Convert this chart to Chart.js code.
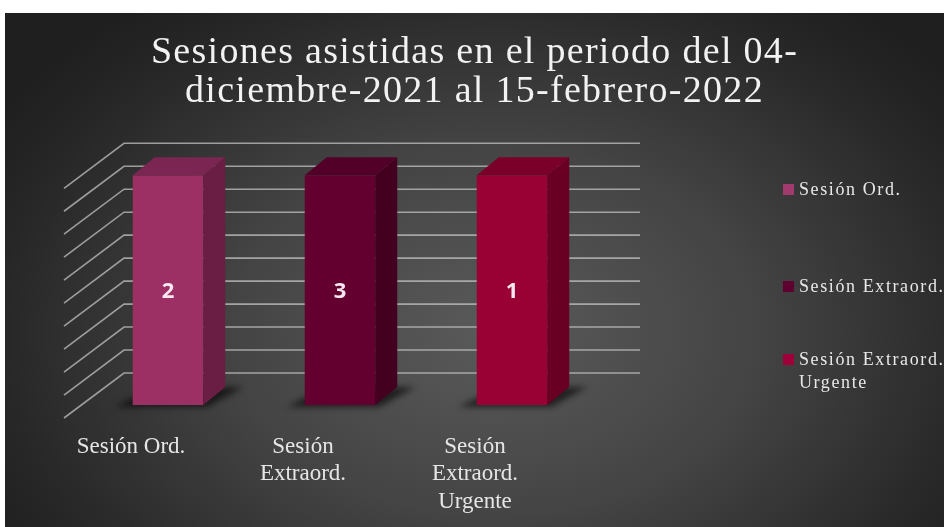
<!DOCTYPE html>
<html>
<head>
<meta charset="utf-8">
<script src="https://cdn.jsdelivr.net/npm/chart.js@4.4.1/dist/chart.umd.min.js"></script>
<style>
  html, body { margin: 0; padding: 0; background: #ffffff; }
  #wrap {
    position: absolute; left: 5px; top: 13px; width: 939px; height: 514px;
    background: radial-gradient(ellipse 62% 80% at 52% 62%, #5a5a5a 0%, #444444 45%, #272727 85%, #1f1f1f 100%);
  }
  canvas { display: block; }
</style>
</head>
<body>
<div id="wrap"><canvas id="chart" width="939" height="514"></canvas></div>
<script>
/* --- DATA --- */
const titleLines = ['Sesiones asistidas en el periodo del 04-', 'diciembre-2021 al 15-febrero-2022'];
const categoryLabels = [['Sesión Ord.'], ['Sesión', 'Extraord.'], ['Sesión', 'Extraord.', 'Urgente']];
const seriesNames = ['Sesión Ord.', 'Sesión Extraord.', 'Sesión Extraord. Urgente'];
const sessionCounts = [2, 3, 1];          // one value per series, each in its own category
const yTicks = { min: 0, max: 100, step: 10 };

/* --- COLOURS (front / side / top) --- */
const faceColors = [
    { front: '#9c3065', side: '#6a1e44', top: '#7b2652', legend: '#a33a6e' },
    { front: '#640030', side: '#43001f', top: '#520027', legend: '#5e0030' },
    { front: '#990033', side: '#690023', top: '#7b0029', legend: '#a0003a' }
];

// 100% stacked: each series share of its category total
const categoryTotals = categoryLabels.map((_, j) => sessionCounts.reduce((s, v, i) => s + (i === j ? v : 0), 0));
const datasets = seriesNames.map((name, i) => ({
    label: name,
    data: categoryLabels.map((_, j) => (i === j ? sessionCounts[i] / categoryTotals[j] * 100 : null)),
    backgroundColor: faceColors[i].front,
    borderWidth: 0
}));

/* --- 3D LOOK --- */
const BACK = { dx: 42, dy: -32 };
const FRONT = { dx: -18, dy: 13 };
const DEPTH = { dx: 22, dy: -18 };

function eachBar(chart, fn) {
    chart.data.datasets.forEach((ds, i) => {
        const meta = chart.getDatasetMeta(i);
        meta.data.forEach((bar, j) => {
            if (ds.data[j] == null) return;
            const p = bar.getProps(['x', 'y', 'base', 'width'], true);
            fn({ left: p.x - p.width / 2, right: p.x + p.width / 2, top: p.y, bottom: p.base, x: p.x }, i, j);
        });
    });
}

function poly(ctx, pts, color) {
    ctx.beginPath();
    ctx.moveTo(pts[0][0], pts[0][1]);
    pts.slice(1).forEach(p => ctx.lineTo(p[0], p[1]));
    ctx.closePath();
    ctx.fillStyle = color;
    ctx.fill();
}

const bar3d = {
    id: 'bar3d',
    beforeDatasetsDraw(chart) {
        const { ctx, chartArea: a, scales: { y } } = chart;
        ctx.save();
        ctx.strokeStyle = 'rgba(195,195,195,0.75)';
        ctx.lineWidth = 1.6;
        y.ticks.forEach(t => {
            const py = y.getPixelForValue(t.value);
            ctx.beginPath();
            ctx.moveTo(a.left + FRONT.dx, py + FRONT.dy);
            ctx.lineTo(a.left + BACK.dx, py + BACK.dy);
            ctx.lineTo(a.right + BACK.dx, py + BACK.dy);
            ctx.stroke();
        });
        // soft floor shadows
        ctx.filter = 'blur(3px)';
        eachBar(chart, b => {
            poly(ctx, [
                [b.left - 18, b.bottom + 2], [b.right + 4, b.bottom + 2],
                [b.right + DEPTH.dx + 18, b.bottom + DEPTH.dy], [b.left + DEPTH.dx, b.bottom + DEPTH.dy]
            ], 'rgba(0,0,0,0.6)');
        });
        ctx.restore();
    },
    afterDatasetsDraw(chart) {
        const { ctx } = chart;
        ctx.save();
        eachBar(chart, (b, i) => {
            const c = faceColors[i];
            poly(ctx, [[b.right, b.top], [b.right + DEPTH.dx, b.top + DEPTH.dy],
                       [b.right + DEPTH.dx, b.bottom + DEPTH.dy], [b.right, b.bottom]], c.side);
            poly(ctx, [[b.left, b.top], [b.left + DEPTH.dx, b.top + DEPTH.dy],
                       [b.right + DEPTH.dx, b.top + DEPTH.dy], [b.right, b.top]], c.top);
        });
        ctx.fillStyle = '#f6e8f0';
        ctx.font = 'bold 22px "Open Sans", sans-serif';
        ctx.textAlign = 'center';
        ctx.textBaseline = 'middle';
        eachBar(chart, (b, i) => {
            ctx.fillText(String(sessionCounts[i]), b.x, (b.top + b.bottom) / 2 + 2);
        });
        ctx.restore();
    }
};

// wider tracking for the title, like the original serif
const titleSpacing = {
    id: 'titleSpacing',
    beforeDraw(chart) {
        const tb = chart.titleBlock;
        if (!tb || tb._spaced) return;
        const draw = tb.draw.bind(tb);
        tb.draw = function (area) {
            chart.ctx.save();
            chart.ctx.letterSpacing = '1.3px';
            draw(area);
            chart.ctx.restore();
        };
        tb._spaced = true;
    }
};

const sideLegend = {
    id: 'sideLegend',
    afterDraw(chart, args, opts) {
        const { ctx } = chart;
        ctx.save();
        ctx.font = opts.font;
        ctx.letterSpacing = opts.spacing;
        ctx.textBaseline = 'middle';
        ctx.textAlign = 'left';
        const maxW = chart.width - opts.x - 14;
        chart.data.datasets.forEach((ds, i) => {
            // simple word wrap
            const lines = [];
            ds.label.split(' ').forEach(w => {
                const last = lines[lines.length - 1];
                if (last && ctx.measureText(last + ' ' + w).width <= maxW) lines[lines.length - 1] = last + ' ' + w;
                else lines.push(w);
            });
            const y0 = opts.y[i];
            ctx.fillStyle = faceColors[i].legend;
            ctx.fillRect(opts.x, y0 - 6, 11, 11);
            ctx.fillStyle = opts.color;
            lines.forEach((ln, k) => ctx.fillText(ln, opts.x + 16, y0 + k * opts.lineHeight));
        });
        ctx.restore();
    }
};

document.addEventListener('DOMContentLoaded', () => {
    new Chart(document.getElementById('chart'), {
        type: 'bar',
        data: { labels: categoryLabels, datasets: datasets },
        plugins: [bar3d, titleSpacing, sideLegend],
        options: {
            responsive: false,
            animation: false,
            layout: { padding: 0 },
            datasets: { bar: { barPercentage: 0.41, categoryPercentage: 1 } },
            plugins: {
                legend: { display: false },
                tooltip: { enabled: false },
                title: {
                    display: true,
                    text: titleLines,
                    color: '#f2f2f2',
                    font: { family: '"Liberation Serif", serif', size: 38, weight: 'normal', lineHeight: 1.03 },
                    padding: { top: 20, bottom: 64 }
                },
                sideLegend: {
                    x: 778, y: [177, 274, 347], lineHeight: 23,
                    font: '18px "Liberation Serif", serif', spacing: '1.6px', color: '#e8e8e8'
                }
            },
            scales: {
                x: {
                    stacked: true,
                    grid: { display: false, drawTicks: false },
                    border: { display: false },
                    ticks: {
                        color: '#e6e6e6',
                        font: { family: '"Liberation Serif", serif', size: 23, lineHeight: 1.2 },
                        padding: 28,
                        labelOffset: -37,
                        maxRotation: 0,
                        autoSkip: false
                    },
                    afterFit(scale) { scale.height = 122; }
                },
                y: {
                    stacked: true,
                    min: yTicks.min,
                    max: yTicks.max,
                    grid: { display: false, drawTicks: false },
                    border: { display: false },
                    ticks: { stepSize: yTicks.step, display: false },
                    afterFit(scale) { scale.width = 77; }
                },
                legendSpace: {
                    type: 'linear',
                    position: 'right',
                    grid: { display: false },
                    border: { display: false },
                    ticks: { display: false },
                    afterFit(scale) { scale.width = 346; }
                }
            }
        }
    });
});
</script>
</body>
</html>
